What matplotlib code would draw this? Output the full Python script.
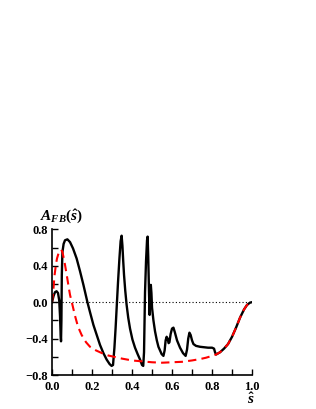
import matplotlib
matplotlib.use("Agg")
import matplotlib.pyplot as plt
from matplotlib.ticker import MultipleLocator

# values
s_black = [0.000, 0.008, 0.015, 0.023, 0.030, 0.036, 0.040, 0.043, 0.045, 0.047,
           0.049, 0.052, 0.058, 0.065, 0.077, 0.090, 0.105, 0.123, 0.140, 0.157,
           0.177, 0.190, 0.207, 0.225, 0.240, 0.257, 0.273, 0.288, 0.298, 0.305,
           0.312, 0.318, 0.323, 0.330, 0.337, 0.343, 0.348, 0.352, 0.356, 0.360,
           0.366, 0.373, 0.381, 0.390, 0.402, 0.415, 0.428, 0.440, 0.450, 0.456,
           0.460, 0.465, 0.470, 0.475, 0.478, 0.481, 0.485, 0.488, 0.491, 0.494,
           0.497, 0.500, 0.507, 0.515, 0.524, 0.532, 0.540, 0.548, 0.557, 0.563,
           0.568, 0.573, 0.578, 0.583, 0.587, 0.593, 0.600, 0.607, 0.614, 0.625,
           0.640, 0.655, 0.668, 0.675, 0.681, 0.687, 0.693, 0.700, 0.707, 0.720,
           0.740, 0.760, 0.780, 0.800, 0.810, 0.815, 0.820, 0.840, 0.860, 0.880,
           0.900, 0.920, 0.940, 0.960, 0.975, 0.990, 1.000]
a_black = [0.00, 0.07, 0.11, 0.12, 0.10, 0.02, -0.15, -0.35, -0.43, -0.20,
           0.30, 0.55, 0.64, 0.68, 0.69, 0.66, 0.59, 0.48, 0.34, 0.19,
           0.00, -0.11, -0.25, -0.37, -0.47, -0.56, -0.63, -0.68, -0.70, -0.69,
           -0.50, -0.28, -0.07, 0.22, 0.48, 0.67, 0.73, 0.62, 0.45, 0.30,
           0.13, -0.03, -0.17, -0.29, -0.41, -0.50, -0.57, -0.63, -0.69, -0.70,
           -0.55, 0.11, 0.45, 0.68, 0.72, 0.50, 0.10, -0.14, 0.05, 0.19,
           0.10, -0.06, -0.20, -0.32, -0.42, -0.49, -0.53, -0.57, -0.59, -0.53,
           -0.42, -0.38, -0.40, -0.45, -0.44, -0.35, -0.29, -0.28, -0.33, -0.42,
           -0.50, -0.56, -0.59, -0.52, -0.40, -0.335, -0.36, -0.42, -0.46, -0.48,
           -0.49, -0.495, -0.50, -0.50, -0.51, -0.55, -0.575, -0.55, -0.51, -0.46,
           -0.38, -0.28, -0.17, -0.08, -0.03, -0.005, 0.00]

s_red = [0.000, 0.006, 0.013, 0.020, 0.025, 0.033, 0.040, 0.046, 0.052, 0.058,
         0.065, 0.075, 0.083, 0.090, 0.100, 0.115, 0.130, 0.148, 0.170, 0.190,
         0.220, 0.250, 0.280, 0.310, 0.350, 0.400, 0.450, 0.500, 0.550, 0.600,
         0.650, 0.700, 0.740, 0.770, 0.800, 0.820, 0.840, 0.860, 0.880, 0.900,
         0.920, 0.940, 0.960, 0.975, 0.990, 1.000]
a_red = [0.00, 0.12, 0.30, 0.42, 0.48, 0.54, 0.57, 0.575, 0.55, 0.49,
         0.41, 0.28, 0.17, 0.08, -0.01, -0.15, -0.27, -0.36, -0.44, -0.49,
         -0.53, -0.56, -0.585, -0.60, -0.62, -0.64, -0.65, -0.66, -0.665, -0.66,
         -0.655, -0.64, -0.625, -0.61, -0.59, -0.575, -0.55, -0.51, -0.46, -0.38,
         -0.28, -0.17, -0.08, -0.03, -0.005, 0.00]

plt.rcParams['font.family'] = ['Liberation Serif', 'DejaVu Serif']
plt.rcParams['font.weight'] = 'bold'
plt.rcParams['mathtext.fontset'] = 'custom'
plt.rcParams['mathtext.rm'] = 'Liberation Serif:bold'
plt.rcParams['mathtext.it'] = 'Liberation Serif:italic:bold'
plt.rcParams['mathtext.bf'] = 'Liberation Serif:bold'

fig = plt.figure(figsize=(3.16, 4.09), dpi=100)
ax = fig.add_axes([0.1646, 0.0831, 0.633, 0.3562])

ax.axhline(0, color='black', linestyle=(0, (1, 2)), linewidth=0.8)
ax.plot(s_black, a_black, color='black', linewidth=1.7)
ax.plot(s_red, a_red, color='red', linestyle=(0, (4, 2.5)), linewidth=1.5)

ax.set_xlim(0, 1.0)
ax.set_ylim(-0.8, 0.8)
ax.xaxis.set_major_locator(MultipleLocator(0.2))
ax.xaxis.set_minor_locator(MultipleLocator(0.1))
ax.yaxis.set_major_locator(MultipleLocator(0.4))
ax.yaxis.set_minor_locator(MultipleLocator(0.2))
ax.tick_params(which='both', direction='in', top=False, right=False,
               labelsize=9, width=1.0)
ax.tick_params(axis='x', pad=4)
ax.tick_params(axis='y', pad=3)
ax.tick_params(which='major', length=4)
ax.tick_params(which='minor', length=4)
ax.spines['top'].set_visible(False)
ax.spines['right'].set_visible(False)
ax.spines['left'].set_linewidth(1.2)
ax.spines['bottom'].set_linewidth(1.2)
for lab in ax.get_xticklabels() + ax.get_yticklabels():
    lab.set_fontweight('bold')

fig.text(0.125, 0.449, r'$A_{FB}(\hat{s})$', fontsize=11, ha='left', va='bottom')
fig.text(0.795, 0.006, r'$\hat{s}$', fontsize=11, ha='center', va='bottom')

fig.savefig('out.png', dpi=100)
